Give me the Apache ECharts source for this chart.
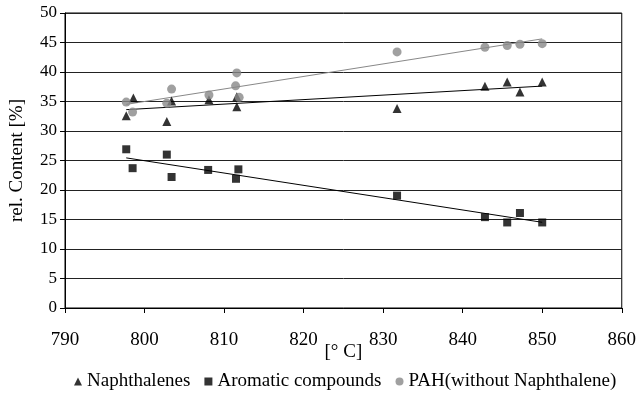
<!DOCTYPE html>
<html>
<head>
<meta charset="utf-8">
<script src="https://cdn.jsdelivr.net/npm/echarts@6/dist/echarts.min.js"></script>
<style>html,body{margin:0;padding:0;background:#fff}#c{width:639px;height:394px}</style>
</head>
<body>
<div id="c"></div>
<script>
var naphX = [797.7, 798.6, 802.8, 803.4, 808.1, 811.6, 811.6, 831.75, 842.8, 845.6, 847.2, 850.0];
var naphY = [32.6, 35.6, 31.6, 35.1, 35.3, 35.8, 34.1, 33.8, 37.6, 38.3, 36.6, 38.3];
var aromX = [797.7, 798.5, 802.8, 803.4, 808.0, 811.5, 811.8, 831.75, 842.8, 845.6, 847.2, 850.0];
var aromY = [26.9, 23.7, 26.0, 22.2, 23.4, 21.9, 23.5, 19.05, 15.4, 14.5, 16.1, 14.5];
var pahX = [797.7, 798.5, 802.8, 803.4, 808.1, 811.6, 811.45, 811.9, 831.75, 842.8, 845.6, 847.2, 850.0];
var pahY = [34.9, 33.2, 34.7, 37.1, 36.1, 39.85, 37.65, 35.7, 43.4, 44.2, 44.5, 44.7, 44.8];
var seriesNames = ['Naphthalenes', 'Aromatic compounds', 'PAH(without Naphthalene)'];
var xTicks = [790, 800, 810, 820, 830, 840, 850, 860];
var yTicks = [0, 5, 10, 15, 20, 25, 30, 35, 40, 45, 50];

function pairs(xs, ys) { return xs.map(function (x, i) { return [x, ys[i]]; }); }
function trend(xs, ys) {
  var n = xs.length, sx = 0, sy = 0, sxx = 0, sxy = 0;
  for (var i = 0; i < n; i++) { sx += xs[i]; sy += ys[i]; sxx += xs[i] * xs[i]; sxy += xs[i] * ys[i]; }
  var b = (n * sxy - sx * sy) / (n * sxx - sx * sx);
  var a = (sy - b * sx) / n;
  var x0 = Math.min.apply(null, xs), x1 = Math.max.apply(null, xs);
  return [[x0, a + b * x0], [x1, a + b * x1]];
}

var font = 'Liberation Serif, Times New Roman, serif';
var chart = echarts.init(document.getElementById('c'), null, { renderer: 'canvas' });
chart.setOption({
  animation: false,
  backgroundColor: '#fff',
  textStyle: { fontFamily: font, color: '#000' },
  grid: { left: 63, right: 16, top: 13, bottom: 86, show: true, borderColor: '#000', borderWidth: 1 },
  legend: {
    bottom: 3, left: 74, width: 600, padding: 0,
    data: [
      { name: seriesNames[0], icon: 'triangle' },
      { name: seriesNames[1], icon: 'rect' },
      { name: seriesNames[2], icon: 'circle' }
    ],
    itemWidth: 8, itemHeight: 8, itemGap: 14,
    textStyle: { fontFamily: font, fontSize: 19, color: '#000' }
  },
  xAxis: {
    type: 'value', min: xTicks[0], max: xTicks[xTicks.length - 1], interval: 10,
    name: '[° C]', nameLocation: 'middle', nameGap: 35, nameMoveOverlap: false,
    nameTextStyle: { fontFamily: font, fontSize: 19, color: '#000' },
    axisLine: { show: true, lineStyle: { color: '#000', width: 1 } },
    axisTick: { show: true, length: 5, lineStyle: { color: '#000' } },
    axisLabel: { fontFamily: font, fontSize: 19, color: '#000', margin: 23 },
    splitLine: { show: false }
  },
  yAxis: {
    type: 'value', min: yTicks[0], max: yTicks[yTicks.length - 1], interval: 5,
    name: 'rel. Content [%]', nameLocation: 'middle', nameGap: 38, nameMoveOverlap: false,
    nameTextStyle: { fontFamily: font, fontSize: 19, color: '#000' },
    axisLine: { show: true, lineStyle: { color: '#000', width: 1 } },
    axisTick: { show: true, length: 5, lineStyle: { color: '#000' } },
    axisLabel: { fontFamily: font, fontSize: 17, color: '#000', margin: 8 },
    splitLine: { show: true, lineStyle: { color: '#222', width: 1 } }
  },
  series: [
    { name: seriesNames[0], type: 'scatter', symbol: 'triangle', symbolSize: 9, itemStyle: { color: '#000' }, data: pairs(naphX, naphY), z: 3 },
    { name: seriesNames[1], type: 'scatter', symbol: 'rect', symbolSize: 8, itemStyle: { color: '#000' }, data: pairs(aromX, aromY), z: 3 },
    { name: seriesNames[2], type: 'scatter', symbol: 'circle', symbolSize: 9, itemStyle: { color: '#888' }, data: pairs(pahX, pahY), z: 3 },
    { type: 'line', data: trend(naphX, naphY), symbol: 'none', lineStyle: { color: '#000', width: 1 }, z: 2, silent: true },
    { type: 'line', data: trend(aromX, aromY), symbol: 'none', lineStyle: { color: '#000', width: 1 }, z: 2, silent: true },
    { type: 'line', data: trend(pahX, pahY), symbol: 'none', lineStyle: { color: '#888', width: 1 }, z: 2, silent: true }
  ]
});
</script>
</body>
</html>
